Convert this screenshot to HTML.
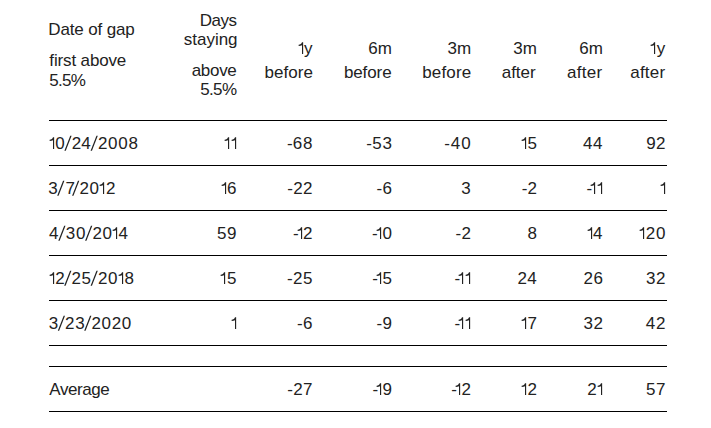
<!DOCTYPE html>
<html><head><meta charset="utf-8"><style>
html,body{margin:0;padding:0;background:#fff;}
body{width:711px;height:428px;position:relative;overflow:hidden;font-family:"Liberation Sans",sans-serif;font-size:17px;color:#222;}
.t,.c{position:absolute;line-height:20px;white-space:nowrap;}
.g{position:absolute;overflow:visible;fill:#222;}
.ln{position:absolute;left:49px;width:618px;height:1px;background:#000;}
</style></head><body>
<div class="t" style="top:19.50px;left:48.30px;letter-spacing:-0.140px">Date of gap</div>
<div class="t" style="top:50.50px;left:49.30px;letter-spacing:-0.140px">first above</div>
<div class="t" style="top:70.50px;left:49.30px;letter-spacing:-0.733px">5.5%</div>
<div class="t" style="top:10.50px;right:474.50px;letter-spacing:-0.500px">Days</div>
<div class="t" style="top:29.50px;right:473.50px;letter-spacing:-0.033px">staying</div>
<div class="t" style="top:60.50px;right:474.50px;letter-spacing:-0.300px">above</div>
<div class="t" style="top:79.50px;right:474.50px;letter-spacing:-0.600px">5.5%</div>
<svg class="g" style="left:297px;top:41px" width="8" height="15"><path d="M5.00 1.30H6.15V13.00H5.00V4.30C4.20 4.70 2.99 4.90 1.65 4.90V3.70C3.32 3.60 4.60 2.60 5.00 1.30Z"/></svg>
<span class="c" style="left:303.90px;top:38.50px">y</span>
<div class="t" style="top:62.50px;right:397.90px;letter-spacing:0.060px">before</div>
<span class="c" style="left:368.20px;top:38.50px">6</span>
<span class="c" style="left:377.70px;top:38.50px">m</span>
<div class="t" style="top:62.50px;right:319.50px;letter-spacing:-0.100px">before</div>
<span class="c" style="left:447.50px;top:38.50px">3</span>
<span class="c" style="left:457.00px;top:38.50px">m</span>
<div class="t" style="top:62.50px;right:239.70px;letter-spacing:0.140px">before</div>
<span class="c" style="left:513.20px;top:38.50px">3</span>
<span class="c" style="left:522.70px;top:38.50px">m</span>
<div class="t" style="top:62.50px;right:175.30px;letter-spacing:-0.000px">after</div>
<span class="c" style="left:579.20px;top:38.50px">6</span>
<span class="c" style="left:588.70px;top:38.50px">m</span>
<div class="t" style="top:62.50px;right:108.50px;letter-spacing:0.300px">after</div>
<svg class="g" style="left:649px;top:41px" width="8" height="15"><path d="M5.00 1.30H6.15V13.00H5.00V4.30C4.20 4.70 2.99 4.90 1.65 4.90V3.70C3.32 3.60 4.60 2.60 5.00 1.30Z"/></svg>
<span class="c" style="left:656.80px;top:38.50px">y</span>
<div class="t" style="top:62.50px;right:45.70px;letter-spacing:0.200px">after</div>
<svg class="g" style="left:48px;top:136px" width="8" height="15"><path d="M5.00 1.30H6.15V13.00H5.00V4.30C4.20 4.70 2.99 4.90 1.65 4.90V3.70C3.32 3.60 4.60 2.60 5.00 1.30Z"/></svg>
<span class="c" style="left:55.30px;top:133.50px">0</span>
<svg class="g" style="left:63px;top:134px" width="11" height="18"><path d="M1.40 16.70H2.75L8.60 1.80H7.25Z"/></svg>
<span class="c" style="left:71.70px;top:133.50px">2</span>
<span class="c" style="left:81.30px;top:133.50px">4</span>
<svg class="g" style="left:89px;top:134px" width="11" height="18"><path d="M1.60 16.70H2.95L8.80 1.80H7.45Z"/></svg>
<span class="c" style="left:97.90px;top:133.50px">2</span>
<span class="c" style="left:108.00px;top:133.50px">0</span>
<span class="c" style="left:118.30px;top:133.50px">0</span>
<span class="c" style="left:128.60px;top:133.50px">8</span>
<svg class="g" style="left:223px;top:136px" width="8" height="15"><path d="M5.00 1.30H6.15V13.00H5.00V4.30C4.20 4.70 2.99 4.90 1.65 4.90V3.70C3.33 3.60 4.60 2.60 5.00 1.30Z"/></svg>
<svg class="g" style="left:230px;top:136px" width="8" height="15"><path d="M5.00 1.30H6.15V13.00H5.00V4.30C4.20 4.70 2.99 4.90 1.65 4.90V3.70C3.33 3.60 4.60 2.60 5.00 1.30Z"/></svg>
<span class="c" style="left:286.90px;top:133.50px">-</span>
<span class="c" style="left:292.80px;top:133.50px">6</span>
<span class="c" style="left:303.00px;top:133.50px">8</span>
<span class="c" style="left:366.20px;top:133.50px">-</span>
<span class="c" style="left:372.30px;top:133.50px">5</span>
<span class="c" style="left:382.50px;top:133.50px">3</span>
<span class="c" style="left:444.30px;top:133.50px">-</span>
<span class="c" style="left:450.70px;top:133.50px">4</span>
<span class="c" style="left:461.20px;top:133.50px">0</span>
<svg class="g" style="left:520px;top:136px" width="8" height="15"><path d="M5.00 1.30H6.15V13.00H5.00V4.30C4.20 4.70 2.99 4.90 1.65 4.90V3.70C3.32 3.60 4.60 2.60 5.00 1.30Z"/></svg>
<span class="c" style="left:527.50px;top:133.50px">5</span>
<span class="c" style="left:583.10px;top:133.50px">4</span>
<span class="c" style="left:593.10px;top:133.50px">4</span>
<span class="c" style="left:646.20px;top:133.50px">9</span>
<span class="c" style="left:656.10px;top:133.50px">2</span>
<span class="c" style="left:48.20px;top:178.50px">3</span>
<svg class="g" style="left:56px;top:179px" width="11" height="18"><path d="M1.20 16.70H2.55L8.40 1.80H7.05Z"/></svg>
<span class="c" style="left:65.50px;top:178.50px">7</span>
<svg class="g" style="left:71px;top:179px" width="11" height="18"><path d="M1.10 16.70H2.45L8.30 1.80H6.95Z"/></svg>
<span class="c" style="left:79.40px;top:178.50px">2</span>
<span class="c" style="left:89.50px;top:178.50px">0</span>
<svg class="g" style="left:98px;top:181px" width="8" height="15"><path d="M5.00 1.30H6.15V13.00H5.00V4.30C4.20 4.70 2.99 4.90 1.65 4.90V3.70C3.33 3.60 4.60 2.60 5.00 1.30Z"/></svg>
<span class="c" style="left:105.90px;top:178.50px">2</span>
<svg class="g" style="left:220px;top:181px" width="8" height="15"><path d="M5.00 1.30H6.15V13.00H5.00V4.30C4.20 4.70 2.99 4.90 1.65 4.90V3.70C3.33 3.60 4.60 2.60 5.00 1.30Z"/></svg>
<span class="c" style="left:227.00px;top:178.50px">6</span>
<span class="c" style="left:287.30px;top:178.50px">-</span>
<span class="c" style="left:293.20px;top:178.50px">2</span>
<span class="c" style="left:303.10px;top:178.50px">2</span>
<span class="c" style="left:376.60px;top:178.50px">-</span>
<span class="c" style="left:382.50px;top:178.50px">6</span>
<span class="c" style="left:461.30px;top:178.50px">3</span>
<span class="c" style="left:521.70px;top:178.50px">-</span>
<span class="c" style="left:527.60px;top:178.50px">2</span>
<span class="c" style="left:586.60px;top:178.50px">-</span>
<svg class="g" style="left:589px;top:181px" width="8" height="15"><path d="M5.00 1.30H6.15V13.00H5.00V4.30C4.20 4.70 2.99 4.90 1.65 4.90V3.70C3.32 3.60 4.60 2.60 5.00 1.30Z"/></svg>
<svg class="g" style="left:596px;top:181px" width="8" height="15"><path d="M5.00 1.30H6.15V13.00H5.00V4.30C4.20 4.70 2.99 4.90 1.65 4.90V3.70C3.32 3.60 4.60 2.60 5.00 1.30Z"/></svg>
<svg class="g" style="left:659px;top:181px" width="8" height="15"><path d="M5.00 1.30H6.15V13.00H5.00V4.30C4.20 4.70 2.99 4.90 1.65 4.90V3.70C3.32 3.60 4.60 2.60 5.00 1.30Z"/></svg>
<span class="c" style="left:49.00px;top:223.50px">4</span>
<svg class="g" style="left:57px;top:224px" width="11" height="18"><path d="M1.30 16.70H2.65L8.50 1.80H7.15Z"/></svg>
<span class="c" style="left:65.80px;top:223.50px">3</span>
<span class="c" style="left:76.00px;top:223.50px">0</span>
<svg class="g" style="left:84px;top:224px" width="11" height="18"><path d="M1.10 16.70H2.45L8.30 1.80H6.95Z"/></svg>
<span class="c" style="left:92.40px;top:223.50px">2</span>
<span class="c" style="left:102.50px;top:223.50px">0</span>
<svg class="g" style="left:111px;top:226px" width="8" height="15"><path d="M5.00 1.30H6.15V13.00H5.00V4.30C4.20 4.70 2.99 4.90 1.65 4.90V3.70C3.33 3.60 4.60 2.60 5.00 1.30Z"/></svg>
<span class="c" style="left:118.60px;top:223.50px">4</span>
<span class="c" style="left:217.00px;top:223.50px">5</span>
<span class="c" style="left:227.10px;top:223.50px">9</span>
<span class="c" style="left:293.00px;top:223.50px">-</span>
<svg class="g" style="left:296px;top:226px" width="8" height="15"><path d="M5.00 1.30H6.15V13.00H5.00V4.30C4.20 4.70 2.99 4.90 1.65 4.90V3.70C3.32 3.60 4.60 2.60 5.00 1.30Z"/></svg>
<span class="c" style="left:303.10px;top:223.50px">2</span>
<span class="c" style="left:372.10px;top:223.50px">-</span>
<svg class="g" style="left:375px;top:226px" width="8" height="15"><path d="M5.00 1.30H6.15V13.00H5.00V4.30C4.20 4.70 2.99 4.90 1.65 4.90V3.70C3.32 3.60 4.60 2.60 5.00 1.30Z"/></svg>
<span class="c" style="left:382.40px;top:223.50px">0</span>
<span class="c" style="left:455.50px;top:223.50px">-</span>
<span class="c" style="left:461.40px;top:223.50px">2</span>
<span class="c" style="left:527.50px;top:223.50px">8</span>
<svg class="g" style="left:586px;top:226px" width="8" height="15"><path d="M5.00 1.30H6.15V13.00H5.00V4.30C4.20 4.70 2.99 4.90 1.65 4.90V3.70C3.32 3.60 4.60 2.60 5.00 1.30Z"/></svg>
<span class="c" style="left:593.10px;top:223.50px">4</span>
<svg class="g" style="left:638px;top:226px" width="8" height="15"><path d="M5.00 1.30H6.15V13.00H5.00V4.30C4.20 4.70 2.99 4.90 1.65 4.90V3.70C3.32 3.60 4.60 2.60 5.00 1.30Z"/></svg>
<span class="c" style="left:645.80px;top:223.50px">2</span>
<span class="c" style="left:655.90px;top:223.50px">0</span>
<svg class="g" style="left:48px;top:271px" width="8" height="15"><path d="M5.00 1.30H6.15V13.00H5.00V4.30C4.20 4.70 2.99 4.90 1.65 4.90V3.70C3.32 3.60 4.60 2.60 5.00 1.30Z"/></svg>
<span class="c" style="left:55.30px;top:268.50px">2</span>
<svg class="g" style="left:63px;top:269px" width="11" height="18"><path d="M1.20 16.70H2.55L8.40 1.80H7.05Z"/></svg>
<span class="c" style="left:71.50px;top:268.50px">2</span>
<span class="c" style="left:81.60px;top:268.50px">5</span>
<svg class="g" style="left:89px;top:269px" width="11" height="18"><path d="M1.60 16.70H2.95L8.80 1.80H7.45Z"/></svg>
<span class="c" style="left:97.90px;top:268.50px">2</span>
<span class="c" style="left:108.00px;top:268.50px">0</span>
<svg class="g" style="left:117px;top:271px" width="8" height="15"><path d="M5.00 1.30H6.15V13.00H5.00V4.30C4.20 4.70 2.99 4.90 1.65 4.90V3.70C3.33 3.60 4.60 2.60 5.00 1.30Z"/></svg>
<span class="c" style="left:124.60px;top:268.50px">8</span>
<svg class="g" style="left:219px;top:271px" width="8" height="15"><path d="M5.00 1.30H6.15V13.00H5.00V4.30C4.20 4.70 2.99 4.90 1.65 4.90V3.70C3.33 3.60 4.60 2.60 5.00 1.30Z"/></svg>
<span class="c" style="left:227.00px;top:268.50px">5</span>
<span class="c" style="left:287.00px;top:268.50px">-</span>
<span class="c" style="left:292.90px;top:268.50px">2</span>
<span class="c" style="left:303.00px;top:268.50px">5</span>
<span class="c" style="left:372.20px;top:268.50px">-</span>
<svg class="g" style="left:375px;top:271px" width="8" height="15"><path d="M5.00 1.30H6.15V13.00H5.00V4.30C4.20 4.70 2.99 4.90 1.65 4.90V3.70C3.32 3.60 4.60 2.60 5.00 1.30Z"/></svg>
<span class="c" style="left:382.50px;top:268.50px">5</span>
<span class="c" style="left:454.50px;top:268.50px">-</span>
<svg class="g" style="left:457px;top:271px" width="8" height="15"><path d="M5.00 1.30H6.15V13.00H5.00V4.30C4.20 4.70 2.99 4.90 1.65 4.90V3.70C3.32 3.60 4.60 2.60 5.00 1.30Z"/></svg>
<svg class="g" style="left:464px;top:271px" width="8" height="15"><path d="M5.00 1.30H6.15V13.00H5.00V4.30C4.20 4.70 2.99 4.90 1.65 4.90V3.70C3.32 3.60 4.60 2.60 5.00 1.30Z"/></svg>
<span class="c" style="left:517.60px;top:268.50px">2</span>
<span class="c" style="left:527.20px;top:268.50px">4</span>
<span class="c" style="left:583.50px;top:268.50px">2</span>
<span class="c" style="left:593.40px;top:268.50px">6</span>
<span class="c" style="left:646.10px;top:268.50px">3</span>
<span class="c" style="left:656.10px;top:268.50px">2</span>
<span class="c" style="left:48.80px;top:313.50px">3</span>
<svg class="g" style="left:56px;top:314px" width="11" height="18"><path d="M1.80 16.70H3.15L9.00 1.80H7.65Z"/></svg>
<span class="c" style="left:65.10px;top:313.50px">2</span>
<span class="c" style="left:75.20px;top:313.50px">3</span>
<svg class="g" style="left:83px;top:314px" width="11" height="18"><path d="M1.20 16.70H2.55L8.40 1.80H7.05Z"/></svg>
<span class="c" style="left:91.50px;top:313.50px">2</span>
<span class="c" style="left:101.60px;top:313.50px">0</span>
<span class="c" style="left:111.70px;top:313.50px">2</span>
<span class="c" style="left:121.80px;top:313.50px">0</span>
<svg class="g" style="left:230px;top:316px" width="8" height="15"><path d="M5.00 1.30H6.15V13.00H5.00V4.30C4.20 4.70 2.99 4.90 1.65 4.90V3.70C3.33 3.60 4.60 2.60 5.00 1.30Z"/></svg>
<span class="c" style="left:297.10px;top:313.50px">-</span>
<span class="c" style="left:303.00px;top:313.50px">6</span>
<span class="c" style="left:376.60px;top:313.50px">-</span>
<span class="c" style="left:382.60px;top:313.50px">9</span>
<span class="c" style="left:454.50px;top:313.50px">-</span>
<svg class="g" style="left:457px;top:316px" width="8" height="15"><path d="M5.00 1.30H6.15V13.00H5.00V4.30C4.20 4.70 2.99 4.90 1.65 4.90V3.70C3.32 3.60 4.60 2.60 5.00 1.30Z"/></svg>
<svg class="g" style="left:464px;top:316px" width="8" height="15"><path d="M5.00 1.30H6.15V13.00H5.00V4.30C4.20 4.70 2.99 4.90 1.65 4.90V3.70C3.32 3.60 4.60 2.60 5.00 1.30Z"/></svg>
<svg class="g" style="left:520px;top:316px" width="8" height="15"><path d="M5.00 1.30H6.15V13.00H5.00V4.30C4.20 4.70 2.99 4.90 1.65 4.90V3.70C3.32 3.60 4.60 2.60 5.00 1.30Z"/></svg>
<span class="c" style="left:527.60px;top:313.50px">7</span>
<span class="c" style="left:583.50px;top:313.50px">3</span>
<span class="c" style="left:593.50px;top:313.50px">2</span>
<span class="c" style="left:645.80px;top:313.50px">4</span>
<span class="c" style="left:656.10px;top:313.50px">2</span>
<div class="t" style="top:379.50px;left:49.30px;letter-spacing:-0.433px">Average</div>
<span class="c" style="left:287.30px;top:379.50px">-</span>
<span class="c" style="left:293.20px;top:379.50px">2</span>
<span class="c" style="left:303.10px;top:379.50px">7</span>
<span class="c" style="left:372.40px;top:379.50px">-</span>
<svg class="g" style="left:375px;top:382px" width="8" height="15"><path d="M5.00 1.30H6.15V13.00H5.00V4.30C4.20 4.70 2.99 4.90 1.65 4.90V3.70C3.32 3.60 4.60 2.60 5.00 1.30Z"/></svg>
<span class="c" style="left:382.60px;top:379.50px">9</span>
<span class="c" style="left:451.30px;top:379.50px">-</span>
<svg class="g" style="left:454px;top:382px" width="8" height="15"><path d="M5.00 1.30H6.15V13.00H5.00V4.30C4.20 4.70 2.99 4.90 1.65 4.90V3.70C3.32 3.60 4.60 2.60 5.00 1.30Z"/></svg>
<span class="c" style="left:461.40px;top:379.50px">2</span>
<svg class="g" style="left:520px;top:382px" width="8" height="15"><path d="M5.00 1.30H6.15V13.00H5.00V4.30C4.20 4.70 2.99 4.90 1.65 4.90V3.70C3.32 3.60 4.60 2.60 5.00 1.30Z"/></svg>
<span class="c" style="left:527.60px;top:379.50px">2</span>
<span class="c" style="left:587.20px;top:379.50px">2</span>
<svg class="g" style="left:596px;top:382px" width="8" height="15"><path d="M5.00 1.30H6.15V13.00H5.00V4.30C4.20 4.70 2.99 4.90 1.65 4.90V3.70C3.32 3.60 4.60 2.60 5.00 1.30Z"/></svg>
<span class="c" style="left:646.10px;top:379.50px">5</span>
<span class="c" style="left:656.10px;top:379.50px">7</span>
<div class="ln" style="top:120px"></div>
<div class="ln" style="top:165px"></div>
<div class="ln" style="top:210px"></div>
<div class="ln" style="top:255px"></div>
<div class="ln" style="top:300px"></div>
<div class="ln" style="top:345px"></div>
<div class="ln" style="top:366px"></div>
<div class="ln" style="top:411px"></div>
</body></html>
